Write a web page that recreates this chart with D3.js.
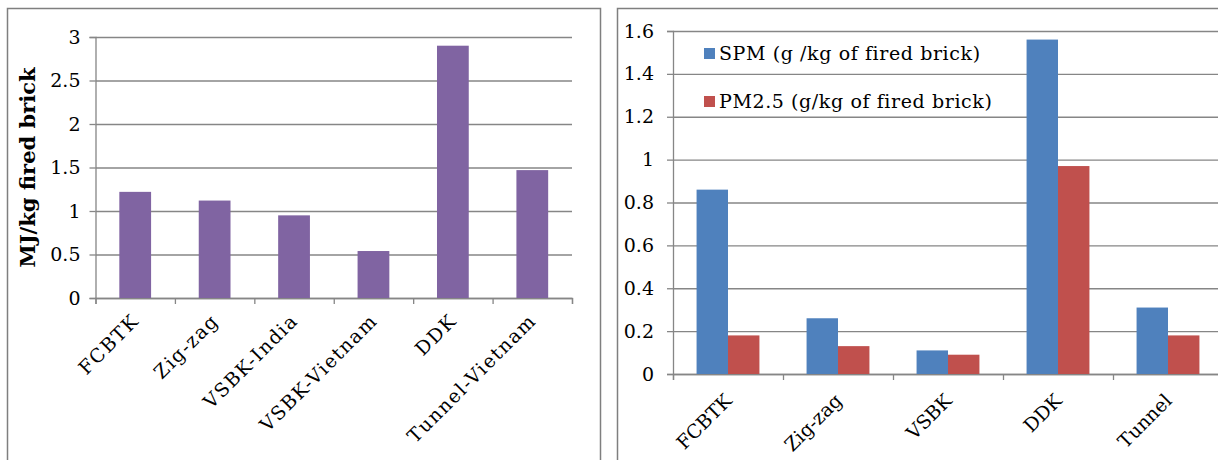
<!DOCTYPE html>
<html>
<head>
<meta charset="utf-8">
<script src="https://cdn.jsdelivr.net/npm/d3@7"></script>
<style>
  html, body { margin: 0; padding: 0; background: #fff; }
  svg text { font-family: "DejaVu Serif", serif; fill: #000; }
</style>
</head>
<body>
<div id="chart"></div>
<script>
// Left panel: energy use per kg of fired brick
const energyCategories = ['FCBTK', 'Zig-zag', 'VSBK-India', 'VSBK-Vietnam', 'DDK', 'Tunnel-Vietnam'];
const energyValues = [1.22, 1.12, 0.95, 0.54, 2.9, 1.47];
const energyTicks = [0, 0.5, 1, 1.5, 2, 2.5, 3];

// Right panel: particulate emissions
const pmCategories = ['FCBTK', 'Zig-zag', 'VSBK', 'DDK', 'Tunnel'];
const spmValues = [0.86, 0.26, 0.11, 1.56, 0.31];
const pm25Values = [0.18, 0.13, 0.09, 0.97, 0.18];
const pmTicks = [0, 0.2, 0.4, 0.6, 0.8, 1, 1.2, 1.4, 1.6];
const pmSeries = ['SPM (g /kg of fired brick)', 'PM2.5 (g/kg of fired brick)'];

const colors = {
    purple: '#8064a2',
    blue: '#4f81bd',
    red: '#c0504d',
    grid: '#868686',
    frame: '#7f7f7f'
};

const svg = d3.select('#chart')
    .append('svg')
    .attr('width', 1218)
    .attr('height', 460);

/**
 * Shared axes: gridlines, y axis with labels, category boundary ticks
 */
function drawAxes(g, cfg) {
    const { y, ticks, n, left, right, labelPad, fontSize } = cfg;

    // gridlines
    g.append('g')
        .attr('class', 'grid')
        .attr('transform', `translate(${left},0)`)
        .call(d3.axisLeft(y).tickValues(ticks).tickSize(-(right - left)).tickFormat(''))
        .call(s => s.select('.domain').remove())
        .selectAll('line')
        .attr('stroke', colors.grid)
        .attr('stroke-width', 1.3);

    // y axis
    const yAxis = g.append('g')
        .attr('transform', `translate(${left},0)`)
        .call(d3.axisLeft(y).tickValues(ticks).tickSize(6).tickPadding(labelPad).tickFormat(d => String(d)));
    yAxis.select('.domain').attr('stroke', colors.grid).attr('stroke-width', 1.3);
    yAxis.selectAll('line').attr('stroke', colors.grid).attr('stroke-width', 1.3);
    yAxis.selectAll('text')
        .style('font-size', fontSize + 'px')
        .style('font-family', '"DejaVu Serif", serif');

    // x axis line + boundary ticks
    const xIdx = d3.scaleLinear().domain([0, n]).range([left, right]);
    const xAxis = g.append('g')
        .attr('transform', `translate(0,${y(0)})`)
        .call(d3.axisBottom(xIdx).tickValues(d3.range(n + 1)).tickSize(6).tickFormat(''));
    xAxis.select('.domain').attr('stroke', colors.grid).attr('stroke-width', 1.3);
    xAxis.selectAll('line').attr('stroke', colors.grid).attr('stroke-width', 1.3);
}

/**
 * Rotated category labels, right end pinned near the band center
 */
function drawCategoryLabels(g, cfg) {
    const { x, y, dx, dy, fontSize, spacing } = cfg;
    g.append('g')
        .attr('transform', `translate(0,${y(0)})`)
        .call(d3.axisBottom(x).tickSize(0).tickPadding(0))
        .call(s => s.select('.domain').remove())
        .selectAll('text')
        .attr('x', 0)
        .attr('y', 0)
        .attr('dy', 0)
        .style('font-size', fontSize + 'px')
        .style('font-family', '"DejaVu Serif", serif')
        .style('letter-spacing', spacing + 'px')
        .style('text-anchor', 'end')
        .attr('transform', `translate(${dx},${dy}) rotate(-45)`);
}

// ---------- Left panel ----------
(function drawEnergy() {
    const left = 95.5, right = 572, top = 37, bottom = 298;
    const g = svg.append('g');

    g.append('rect')
        .attr('x', 7.5).attr('y', 8.5)
        .attr('width', 593).attr('height', 480)
        .attr('fill', 'none')
        .attr('stroke', colors.frame)
        .attr('stroke-width', 1.5);

    const y = d3.scaleLinear().domain([0, 3]).range([bottom, top]);
    const xCat = d3.scaleBand().domain(energyCategories).range([left, right]).padding(0);
    const xBar = d3.scaleBand().domain(energyCategories).range([left, right])
        .paddingInner(0.6).paddingOuter(0.3);

    drawAxes(g, { y, ticks: energyTicks, n: energyCategories.length,
        left, right, labelPad: 9, fontSize: 19 });

    g.append('g')
        .selectAll('rect')
        .data(energyCategories.map((c, i) => ({ c, v: energyValues[i] })))
        .enter()
        .append('rect')
        .attr('x', d => xBar(d.c))
        .attr('width', xBar.bandwidth())
        .attr('y', d => y(d.v))
        .attr('height', d => y(0) - y(d.v))
        .attr('fill', colors.purple);

    drawCategoryLabels(g, { x: xCat, y, dx: 5, dy: 24, fontSize: 19, spacing: 1.5 });

    g.append('text')
        .attr('transform', `translate(35,${(top + bottom) / 2}) rotate(-90)`)
        .attr('text-anchor', 'middle')
        .style('font-size', '21px')
        .style('font-weight', 'bold')
        .text('MJ/kg fired brick');
})();

// ---------- Right panel ----------
(function drawEmissions() {
    const left = 673, right = 1223, top = 31, bottom = 374;
    const g = svg.append('g');

    g.append('rect')
        .attr('x', 617.5).attr('y', 8.5)
        .attr('width', 700).attr('height', 480)
        .attr('fill', 'none')
        .attr('stroke', colors.frame)
        .attr('stroke-width', 1.5);

    const y = d3.scaleLinear().domain([0, 1.6]).range([bottom, top]);
    const x0 = d3.scaleBand().domain(pmCategories).range([left, right]).padding(0);
    const x1 = d3.scaleBand().domain(pmSeries).range([0, x0.bandwidth()])
        .paddingInner(0).paddingOuter(0.75);
    const color = d3.scaleOrdinal().domain(pmSeries).range([colors.blue, colors.red]);

    drawAxes(g, { y, ticks: pmTicks, n: pmCategories.length,
        left, right, labelPad: 13, fontSize: 19 });

    const groups = g.selectAll('.bar-group')
        .data(pmCategories.map((c, i) => ({ c, vals: [spmValues[i], pm25Values[i]] })))
        .enter()
        .append('g')
        .attr('class', 'bar-group')
        .attr('transform', d => `translate(${x0(d.c)},0)`);

    groups.selectAll('rect')
        .data(d => pmSeries.map((s, j) => ({ key: s, value: d.vals[j] })))
        .enter()
        .append('rect')
        .attr('x', d => x1(d.key))
        .attr('width', x1.bandwidth())
        .attr('y', d => y(d.value))
        .attr('height', d => y(0) - y(d.value))
        .attr('fill', d => color(d.key));

    drawCategoryLabels(g, { x: x0, y, dx: 5, dy: 28, fontSize: 19, spacing: 0 });

    // legend
    const legend = g.append('g').attr('transform', 'translate(704,48)');
    pmSeries.forEach((s, i) => {
        const row = legend.append('g').attr('transform', `translate(0,${i * 48})`);
        row.append('rect')
            .attr('width', 11)
            .attr('height', 11)
            .attr('fill', color(s));
        row.append('text')
            .attr('x', 15)
            .attr('y', 11.5)
            .style('font-size', '19px')
            .style('letter-spacing', '0.6px')
            .text(s);
    });
})();
</script>
</body>
</html>
